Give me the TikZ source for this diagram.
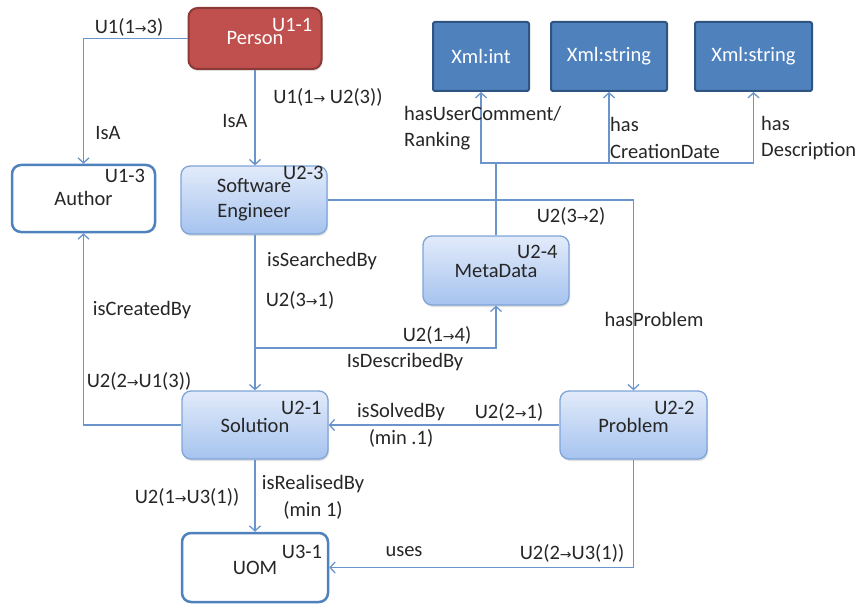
\documentclass[tikz,border=0pt]{standalone}
\usepackage{fontspec}
\setmainfont{Carlito}
\newfontfamily\arfont{DejaVu Sans}
\usetikzlibrary{arrows.meta,calc,shadows}
\definecolor{redfill}{HTML}{C0504D}
\definecolor{redline}{HTML}{8C3A38}
\definecolor{dfill}{HTML}{4F81BD}
\definecolor{dline}{HTML}{2F5481}
\definecolor{ltop}{HTML}{E2EBFA}
\definecolor{lbot}{HTML}{A6C3EF}
\definecolor{lline}{HTML}{7FA4D8}
\definecolor{wline}{HTML}{4F81BD}
\definecolor{cline}{HTML}{6A94CC}
\definecolor{txt}{HTML}{262626}
\newcommand{\ra}{{\arfont\fontsize{14}{14}\selectfont →}}
\tikzset{
  base/.style={rectangle, rounded corners=9pt, align=center, text=txt,
    font=\fontsize{20.5}{25}\selectfont, inner sep=0pt},
  shad/.style={drop shadow={opacity=0.25, shadow xshift=1pt, shadow yshift=-2pt}},
  redbox/.style={base, shad, fill=redfill, draw=redline, line width=2pt, text=white},
  whitebox/.style={base, fill=white, draw=wline, line width=2.5pt},
  lightbox/.style={base, shad, top color=ltop, bottom color=lbot, draw=lline, line width=1.3pt},
  xmlbox/.style={base, rounded corners=2pt, fill=dfill, draw=dline, line width=2pt, text=white},
  conn/.style={draw=cline, line width=1.3pt, -{Straight Barb[length=5pt,width=11pt]}},
  lab/.style={text=txt, font=\fontsize{20.5}{25}\selectfont, inner sep=0pt},
  lab2/.style={text=txt, font=\fontsize{20.5}{26.5}\selectfont, inner sep=0pt, align=left, anchor=west},
}
\begin{document}
\begin{tikzpicture}[x=1pt,y=-1pt]
\useasboundingbox (0,0) rectangle (861,604);
% nodes
\node[redbox, minimum width=133pt, minimum height=61pt] (person) at (255,38.5) {Person};
\node[whitebox, minimum width=143pt, minimum height=67pt] (author) at (83.5,198.5) {Author};
\node[lightbox, minimum width=146pt, minimum height=68pt] (se) at (254,200) {Software\\Engineer};
\node[lightbox, minimum width=146pt, minimum height=69pt] (meta) at (496,270.5) {MetaData};
\node[lightbox, minimum width=146pt, minimum height=68pt] (sol) at (255,425) {Solution};
\node[lightbox, minimum width=147pt, minimum height=68pt] (prob) at (633.5,425) {Problem};
\node[whitebox, minimum width=146pt, minimum height=69pt] (uom) at (255,567.5) {UOM};
\node[xmlbox, minimum width=96pt, minimum height=69pt] (xi) at (481,56.5) {Xml:int};
\node[xmlbox, minimum width=116pt, minimum height=69pt] (xs1) at (609,56.5) {Xml:string};
\node[xmlbox, minimum width=117pt, minimum height=69pt] (xs2) at (753.5,56.5) {Xml:string};
% tags
\node[lab, anchor=north east, text=white] (t1) at ($(person.north east)+(-10,11)$) {U1-1};
\node[lab, anchor=north east] (t2) at ($(author.north east)+(-11,5)$) {U1-3};
\node[lab, anchor=north east] (t3) at ($(se.north east)+(-4,1)$) {U2-3};
\node[lab, anchor=north east] (t4) at ($(meta.north east)+(-12,10)$) {U2-4};
\node[lab, anchor=north east] (t5) at ($(sol.north east)+(-7,11)$) {U2-1};
\node[lab, anchor=north east] (t6) at ($(prob.north east)+(-13,11)$) {U2-2};
\node[lab, anchor=north east] (t7) at ($(uom.north east)+(-7,13)$) {U3-1};
% connectors
\draw[conn] (person.west) -| (author.north);
\draw[conn] (person.south) -- (person.south |- se.north);
\draw[conn] (se.east) -| (prob.north);
\draw[conn] (se.south -| sol.north) -- (sol.north);
\coordinate (j) at (255,348);
\draw[conn] (j) -| (meta.south);
\coordinate (b) at (496,163);
\draw[conn] (meta.north) -- (b) -| (xi.south);
\draw[conn] (b) -| (xs1.south);
\draw[conn] (b) -| (xs2.south);
\draw[conn] (sol.west) -| (author.south);
\draw[conn] (prob.west) -- (sol.east);
\draw[conn] (sol.south) -- (uom.north);
\draw[conn] (prob.south) |- (uom.east);
% labels
\node[lab] (l1) at (129,27) {U1(1\ra3)};
\node[lab] (l2) at (108,133) {IsA};
\node[lab] (l3) at (235,121) {IsA};
\node[lab] (l4) at (328,97) {U1(1\ra\ U2(3))};
\node[lab2] (l5) at (404,128) {hasUserComment/\\Ranking};
\node[lab2] (l6) at (610,138) {has\\CreationDate};
\node[lab2] (l7) at (761,138) {has\\Description};
\node[lab] (l8) at (571,216) {U2(3\ra2)};
\node[lab] (l9) at (322,261) {isSearchedBy};
\node[lab] (l10) at (300,300) {U2(3\ra1)};
\node[lab] (l11) at (142,310) {isCreatedBy};
\node[lab] (l12) at (654,319) {hasProblem};
\node[lab] (l13) at (437,335) {U2(1\ra4)};
\node[lab] (l14) at (405,362) {IsDescribedBy};
\node[lab] (l15) at (139,381) {U2(2\ra U1(3))};
\node[lab] (l16) at (401,412) {isSolvedBy};
\node[lab] (l17) at (401,438) {(min .1)};
\node[lab] (l18) at (509,412) {U2(2\ra1)};
\node[lab] (l19) at (313,484) {isRealisedBy};
\node[lab] (l20) at (313,510) {(min 1)};
\node[lab] (l21) at (187,497) {U2(1\ra U3(1))};
\node[lab] (l22) at (404,552) {uses};
\node[lab] (l23) at (572,553) {U2(2\ra U3(1))};
\end{tikzpicture}
\end{document}
